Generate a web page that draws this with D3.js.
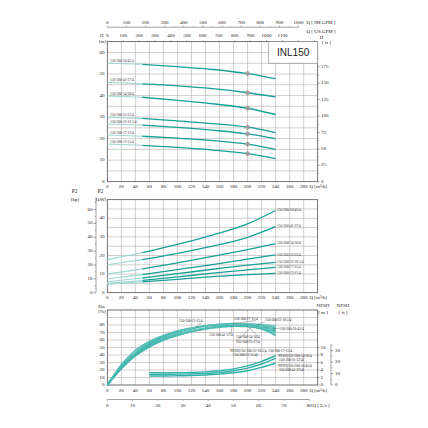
<!DOCTYPE html>
<html>
<head>
<meta charset="utf-8">
<script src="https://cdn.jsdelivr.net/npm/d3@7/dist/d3.min.js"></script>
<style>
  body { margin: 0; background: #fff; }
  svg text { font-family: "Liberation Serif", "DejaVu Serif", serif; fill: #222; }
</style>
</head>
<body>
<svg id="chart" width="428" height="428"></svg>
<script>
// ---- data ----
var models = ["150-200-50-45/4", "150-200-41-37/4", "150-200-34-30/4", "150-200-25-22/4",
              "150-200-22-18.5/4", "150-200-17-15/4", "150-200-13-11/4"];

var qCurve = [0, 50, 100, 150, 200, 240];
var headVals = [
  [55.0, 54.5, 53.4, 52.1, 50.2, 47.8],
  [46.2, 45.4, 44.5, 43.2, 41.3, 39.4],
  [39.8, 39.2, 37.8, 36.2, 34.1, 31.2],
  [29.9, 29.4, 28.2, 27.0, 25.3, 22.8],
  [26.8, 26.3, 25.2, 23.9, 22.2, 20.0],
  [21.7, 21.1, 20.2, 19.1, 17.4, 15.0],
  [17.5, 16.9, 15.9, 14.7, 13.0, 10.7]
];
var powerVals = [
  [17.8, 21.5, 26.0, 31.0, 37.0, 44.2],
  [15.0, 17.8, 21.2, 25.0, 29.8, 35.5],
  [10.0, 12.8, 16.0, 19.5, 23.2, 26.4],
  [7.5, 9.7, 12.4, 15.1, 18.0, 20.4],
  [5.9, 7.9, 10.2, 12.6, 14.8, 16.3],
  [5.0, 6.6, 8.5, 10.5, 12.3, 13.6],
  [4.6, 5.8, 7.2, 8.6, 9.7, 10.4]
];
var ratedQ = 200;

var qEta = [0, 20, 40, 60, 80, 100, 120, 140, 160, 180, 200, 220, 240];
var etaVals = [
  [0, 22, 39, 51, 60, 66.5, 71.5, 75, 78, 80, 80.5, 78.5, 74],
  [0, 22, 39, 51, 60, 66, 71, 74.5, 77, 78.5, 78, 74.5, 66],
  [0, 23, 40, 52, 61, 67.5, 72, 75.5, 78, 79.5, 79.5, 77.5, 72],
  [0, 23, 41, 53, 62, 68, 72.5, 76, 78.5, 79.5, 78.5, 75, 68.5],
  [0, 24, 42, 55, 64, 70.5, 75, 78.5, 80.5, 81.5, 81.5, 80.5, 78.5],
  [0, 25, 43, 56, 65, 71, 75.5, 79, 81, 82, 81.5, 79.5, 76],
  [0, 27, 46, 58, 66, 72, 76, 79, 80.5, 80.5, 79, 76, 71]
];

var qNpsh = [60, 80, 100, 120, 140, 160, 180, 200, 220, 240];
var npshVals = [
  [3.3, 3.3, 3.3, 3.35, 3.5, 3.8, 4.3, 5.1, 6.3, 7.8],
  [2.85, 2.85, 2.9, 2.95, 3.1, 3.35, 3.8, 4.5, 5.6, 7.1],
  [2.4, 2.4, 2.45, 2.5, 2.65, 2.9, 3.25, 3.8, 4.7, 5.8]
];
var npshLabels = [
  ["NPSH(150-200-22-18.5/4, 150-200-17-15/4", "150-200-13-11/4)"],
  ["NPSH(150-200-34-30/4", "150-200-25-22/4)"],
  ["NPSH(150-200-50-45/4", "150-200-41-37/4)"]
];

var qTicks = d3.range(0, 281, 20);
var imTicks = d3.range(0, 1001, 100);
var usTicks = d3.range(0, 1101, 100);
var lsTicks = d3.range(0, 81, 10);
var hTicks = d3.range(0, 61, 10);
var ftTicks = d3.range(0, 176, 25);
var kwTicks = d3.range(0, 41, 10);
var hpTicks = d3.range(0, 61, 10);
var etaTicks = d3.range(0, 81, 10);
var npshTicks = d3.range(0, 11, 2);
var npshFtTicks = d3.range(0, 31, 10);

// ---- scales ----
var x = d3.scaleLinear().domain([0, 300]).range([107.3, 317.7]);
var xIM = d3.scaleLinear().domain([0, 300 / 0.2728]).range([107.3, 317.7]);
var xUS = d3.scaleLinear().domain([0, 300 / 0.2271]).range([107.3, 317.7]);
var xLs = d3.scaleLinear().domain([0, 300 / 3.6]).range([107.3, 317.7]);

var yH = d3.scaleLinear().domain([0, 65]).range([181.7, 41.7]);
var yFt = d3.scaleLinear().domain([0, 65 / 0.3048]).range([181.7, 41.7]);
var yP = d3.scaleLinear().domain([0, 50]).range([292.7, 199.7]);
var yHp = d3.scaleLinear().domain([0, 50 / 0.7457]).range([292.7, 199.7]);
var yE = d3.scaleLinear().domain([0, 100]).range([385, 310]);
var yN = d3.scaleLinear().domain([0, 20]).range([385, 310]);
var yNft = d3.scaleLinear().domain([0, 20 / 0.3048]).range([385, 310]);

var dark = "#17a097", light = "#9dd8d3", etaCol = "#30b0a8";
var gridCol = "#aea6a6", axisCol = "#444";
var fs = 5; // tick label size

var svg = d3.select("#chart");

function txt(g, xx, yy, s, size, anchor) {
  return g.append("text").attr("x", xx).attr("y", yy).text(s)
    .style("font-size", size + "px")
    .attr("text-anchor", anchor || "middle")
    .attr("dominant-baseline", "middle");
}

// grid + frame for one panel
function panel(yScale, step, top) {
  var g = svg.append("g");
  var y0 = yScale.range()[0];
  for (var q = 0; q <= 300; q += 20) {
    g.append("line").attr("x1", x(q)).attr("x2", x(q)).attr("y1", y0).attr("y2", top)
      .style("stroke", gridCol).style("stroke-width", 0.55);
  }
  var d = yScale.domain();
  for (var v = d[0]; v <= d[1] + 0.001; v += step) {
    g.append("line").attr("x1", x(0)).attr("x2", x(300)).attr("y1", yScale(v)).attr("y2", yScale(v))
      .style("stroke", gridCol).style("stroke-width", 0.55);
  }
  g.append("rect").attr("x", x(0)).attr("y", top).attr("width", x(300) - x(0)).attr("height", y0 - top)
    .style("fill", "none").style("stroke", axisCol).style("stroke-width", 0.6);
  // Q labels under panel
  qTicks.forEach(function(t) { txt(g, x(t), y0 + 5.5, t, fs); });
  txt(g, 309.5, y0 + 5.5, "Q [m\u00b3/h]", fs, "start");
  return g;
}

function leftLabels(g, yScale, ticks, xr) {
  ticks.forEach(function(t) {
    txt(g, xr, yScale(t), t, fs, "end");
  });
}

var line = function(xs, ys, xScale, yScale) {
  return d3.line().x(function(d, i) { return xScale(xs[i]); })
    .y(function(d) { return yScale(d); }).curve(d3.curveMonotoneX)(ys);
};

// curve with faint start section (0-50) and dark working range
function twoTone(g, vals, yScale) {
  g.append("path").attr("d", line(qCurve.slice(0, 2), vals.slice(0, 2), x, yScale))
    .style("fill", "none").style("stroke", light).style("stroke-width", 1.1);
  g.append("path").attr("d", line(qCurve.slice(1), vals.slice(1), x, yScale))
    .style("fill", "none").style("stroke", dark).style("stroke-width", 1.3);
}

function etaValAt(i, q) {
  var k = d3.bisectRight(qEta, q) - 1;
  var f = (q - qEta[k]) / (qEta[k + 1] - qEta[k]);
  return etaVals[i][k] + f * (etaVals[i][k + 1] - etaVals[i][k]);
}

// ================= H chart =================
var gH = panel(yH, 5, 41.7);
leftLabels(gH, yH, hTicks, 104.5);
txt(gH, 101.7, 36.3, "H", fs);
txt(gH, 102.5, 41.6, "[m]", fs);

// right ft axis
ftTicks.forEach(function(t) {
  gH.append("line").attr("x1", x(300)).attr("x2", x(300) + 2).attr("y1", yFt(t)).attr("y2", yFt(t))
    .style("stroke", axisCol).style("stroke-width", 0.5);
  txt(gH, 321, yFt(t), t, fs, "start");
});
d3.range(12.5, 200, 25).forEach(function(t) {
  gH.append("line").attr("x1", x(300)).attr("x2", x(300) + 1.2).attr("y1", yFt(t)).attr("y2", yFt(t))
    .style("stroke", axisCol).style("stroke-width", 0.4);
});
txt(gH, 321.5, 37.5, "H", fs);
txt(gH, 326.5, 42.5, "[ ft ]", fs);

// IM GPM axis on top
var imY = 27.2;
gH.append("line").attr("x1", xIM(0)).attr("x2", xIM(1000)).attr("y1", imY).attr("y2", imY)
  .style("stroke", axisCol).style("stroke-width", 0.5);
d3.range(0, 1001, 50).forEach(function(t) {
  gH.append("line").attr("x1", xIM(t)).attr("x2", xIM(t)).attr("y1", imY).attr("y2", imY - (t % 100 ? 0.8 : 1.5))
    .style("stroke", axisCol).style("stroke-width", 0.4);
});
imTicks.forEach(function(t) { txt(gH, xIM(t), 23.2, t, fs); });
txt(gH, 306.5, 23.2, "Q [ IM.GPM ]", fs, "start");

// US GPM axis on panel top
d3.range(0, 1301, 50).forEach(function(t) {
  gH.append("line").attr("x1", xUS(t)).attr("x2", xUS(t)).attr("y1", 41.7).attr("y2", 41.7 - (t % 100 ? 0.8 : 1.5))
    .style("stroke", axisCol).style("stroke-width", 0.4);
});
usTicks.forEach(function(t) { txt(gH, xUS(t), 36.3, t, fs); });
txt(gH, 306.5, 32.2, "Q [ US.GPM ]", fs, "start");

// model box
gH.append("rect").attr("x", x(230)).attr("y", 41.7).attr("width", x(300) - x(230)).attr("height", 21.5)
  .style("fill", "#fff").style("stroke", "#888").style("stroke-width", 0.6);
gH.append("text").attr("x", (x(230) + x(300)) / 2).attr("y", 53).text("INL150")
  .attr("text-anchor", "middle").attr("dominant-baseline", "middle")
  .style("font-family", "'Liberation Sans', Arial, sans-serif").style("font-size", "10px").style("fill", "#222");

headVals.forEach(function(vals, i) {
  twoTone(gH, vals, yH);
  txt(gH, x(4), yH(vals[0]) - 2.2, models[i], 3.5, "start").style("fill", "#333");
  var mk = gH.append("g").attr("transform", "translate(" + x(ratedQ) + "," + yH(vals[4]) + ")");
  mk.append("circle").attr("r", 2).style("fill", "#b5b5b5").style("stroke", "#888").style("stroke-width", 0.5);
  mk.append("line").attr("x1", -2.6).attr("x2", 2.6).style("stroke", "#888").style("stroke-width", 0.5);
  mk.append("line").attr("y1", -2.6).attr("y2", 2.6).style("stroke", "#888").style("stroke-width", 0.5);
});

// ================= P2 chart =================
var gP = panel(yP, 5, 199.7);
leftLabels(gP, yP, kwTicks, 104.5);
txt(gP, 74.5, 191.5, "P2", 5.2);
txt(gP, 100.5, 191.5, "P2", 5.2);
txt(gP, 75, 199.5, "[hp]", fs);
txt(gP, 101, 199.5, "[kW]", fs);
gP.append("line").attr("x1", 96).attr("x2", 96).attr("y1", 197).attr("y2", 292.7)
  .style("stroke", axisCol).style("stroke-width", 0.5);
hpTicks.forEach(function(t) {
  gP.append("line").attr("x1", 93.5).attr("x2", 96).attr("y1", yHp(t)).attr("y2", yHp(t))
    .style("stroke", axisCol).style("stroke-width", 0.5);
  txt(gP, 92.5, yHp(t), t, fs, "end");
});
d3.range(5, 66, 10).forEach(function(t) {
  gP.append("line").attr("x1", 94.8).attr("x2", 96).attr("y1", yHp(t)).attr("y2", yHp(t))
    .style("stroke", axisCol).style("stroke-width", 0.4);
});
powerVals.forEach(function(vals, i) {
  twoTone(gP, vals, yP);
  txt(gP, x(240) + 1.5, yP(vals[5]), models[i], 3.5, "start").style("fill", "#333");
});

// ================= Eta / NPSH chart =================
var gE = panel(yE, 10, 310);
leftLabels(gE, yE, etaTicks, 104.5);
txt(gE, 101.5, 306.5, "Eta", fs);
txt(gE, 102, 312.3, "[%]", fs);

npshTicks.forEach(function(t) {
  gE.append("line").attr("x1", x(300)).attr("x2", x(300) + 2).attr("y1", yN(t)).attr("y2", yN(t))
    .style("stroke", axisCol).style("stroke-width", 0.5);
  txt(gE, 320.5, yN(t), t, fs, "start");
});
gE.append("line").attr("x1", 331).attr("x2", 331).attr("y1", yN(11)).attr("y2", 385)
  .style("stroke", axisCol).style("stroke-width", 0.5);
npshFtTicks.forEach(function(t) {
  gE.append("line").attr("x1", 331).attr("x2", 333).attr("y1", yNft(t)).attr("y2", yNft(t))
    .style("stroke", axisCol).style("stroke-width", 0.5);
  txt(gE, 335, yNft(t), t, fs, "start");
});
d3.range(5, 36, 10).forEach(function(t) {
  gE.append("line").attr("x1", 331).attr("x2", 332.2).attr("y1", yNft(t)).attr("y2", yNft(t))
    .style("stroke", axisCol).style("stroke-width", 0.4);
});
txt(gE, 323, 306, "NPSH", fs);
txt(gE, 343, 306, "NPSH", fs);
txt(gE, 323, 312.5, "[ m ]", fs);
txt(gE, 343, 312.5, "[ ft ]", fs);

etaVals.forEach(function(vals) {
  gE.append("path").attr("d", line(qEta, vals, x, yE))
    .style("fill", "none").style("stroke", etaCol).style("stroke-width", 1.5);
  gE.append("path").attr("d", line(qEta, vals, x, yE))
    .style("fill", "none").style("stroke", "#d8f1ee").style("stroke-width", 0.3);
});
npshVals.forEach(function(vals) {
  gE.append("path").attr("d", line(qNpsh, vals, x, yN))
    .style("fill", "none").style("stroke", etaCol).style("stroke-width", 1.4);
});

// eta labels with leader lines: [model index, text x, text y, curve Q]
var etaLabelPos = [
  [6, 179, 321.7, 126],
  [5, 234, 319.3, 178],
  [4, 265, 320.7, 214],
  [0, 280, 329.3, 236],
  [1, 209, 335.3, 178],
  [2, 236, 337.3, 198],
  [3, 236, 342.7, 206]
];
etaLabelPos.forEach(function(p) {
  var i = p[0];
  txt(gE, p[1], p[2], models[i], 3.5, "start");
  var cy = yE(etaValAt(i, p[3]));
  var lx = p[3] > 200 ? p[1] : p[1] + 22;
  gE.append("line").attr("x1", lx).attr("y1", p[2] + (cy > p[2] ? 1.2 : -1.2))
    .attr("x2", x(p[3])).attr("y2", cy).style("stroke", "#333").style("stroke-width", 0.35);
});

// NPSH labels
txt(gE, 230, 351.7, npshLabels[0][0], 3.5, "start");
txt(gE, 233, 355.2, npshLabels[0][1], 3.5, "start");
txt(gE, 278, 356.7, npshLabels[1][0], 3.5, "start");
txt(gE, 279, 360.2, npshLabels[1][1], 3.5, "start");
txt(gE, 278, 366.7, npshLabels[2][0], 3.5, "start");
txt(gE, 279, 370.2, npshLabels[2][1], 3.5, "start");

// L/s axis
var lsY = 399.5;
gE.append("line").attr("x1", xLs(0)).attr("x2", xLs(80)).attr("y1", lsY).attr("y2", lsY)
  .style("stroke", axisCol).style("stroke-width", 0.5);
d3.range(0, 81, 5).forEach(function(t) {
  gE.append("line").attr("x1", xLs(t)).attr("x2", xLs(t)).attr("y1", lsY).attr("y2", lsY + (t % 10 ? 0.8 : 1.5))
    .style("stroke", axisCol).style("stroke-width", 0.4);
});
lsTicks.forEach(function(t) { txt(gE, xLs(t), 405.7, t, fs); });
txt(gE, 312.5, 405.7, "Q [ L/s ]", fs, "start");
</script>
</body>
</html>
